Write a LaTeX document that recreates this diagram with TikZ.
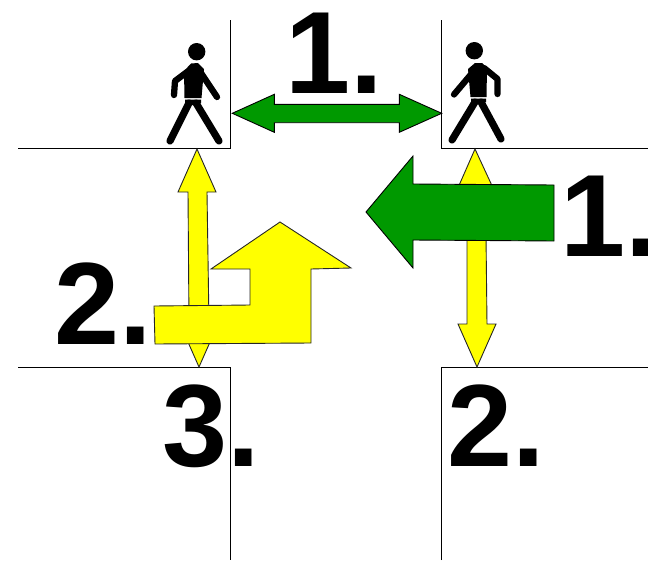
\documentclass[tikz,border=0pt]{standalone}
\usepackage{fontspec}
\setmainfont{Liberation Sans}
\definecolor{gr}{RGB}{0,153,0}
\definecolor{ye}{RGB}{255,255,0}
\tikzset{
 wall/.style={draw=black,line width=0.9pt},
 ya/.style={draw=black!85,fill=ye,line width=0.9pt,line join=miter},
 ga/.style={draw=black,fill=gr,line width=0.9pt,line join=miter},
 lab/.style={font=\fontsize{117}{117}\bfseries\selectfont,inner sep=0pt,anchor=base west},
 armline/.style={draw=black,line width=6.3pt,line cap=round,line join=round},
 legline/.style={draw=black,line width=7.2pt,line cap=round,line join=round}
}
\begin{document}
\begin{tikzpicture}[x=1pt,y=-1pt]
\useasboundingbox (0,0) rectangle (648,560);
% walls
\draw[wall] (18,148.5) -- (230,148.5) -- (230,20);
\draw[wall] (441.5,20) -- (441.5,148.5) -- (648,148.5);
\draw[wall] (18,367.5) -- (230,367.5) -- (230,560);
\draw[wall] (441.5,560) -- (441.5,367.5) -- (648,367.5);
% left person
\fill (196.7,51.7) circle (8.7);
\fill (184,71) -- (191,63.5) -- (198,63) -- (204,69) -- (201.5,98) -- (184.5,98) -- cycle;
\draw[armline] (187,72) -- (175,81) -- (174,95);
\draw[armline] (199,70) -- (217,97);
\fill (185,99.5) -- (201,99.5) -- (201,103) -- (197,105) -- (192,105) -- (185,103) -- cycle;
\draw[legline] (189,103) -- (170,141);
\draw[legline] (196,103) -- (219,141);
% right person
\fill (474.3,50.7) circle (8.7);
\fill (468,69) -- (475,63) -- (482,63) -- (487,68) -- (486.5,97) -- (470.5,97) -- cycle;
\draw[armline] (473,72) -- (454,94.5);
\draw[armline] (484,68) -- (497.5,79) -- (497.5,94);
\fill (471,98.5) -- (486,98.5) -- (486,102) -- (481,104) -- (476,104) -- (471,102) -- cycle;
\draw[legline] (475,102) -- (452,140);
\draw[legline] (481,102) -- (501,139);
% yellow arrows
\path[ya] (197,149) -- (216,192) -- (207,192) -- (209,324) -- (218,324) -- (199,367) -- (180,324) -- (189,324) -- (188,192) -- (178,192) -- cycle;
\path[ya] (475,149) -- (494,190) -- (485.5,190) -- (487,324) -- (496,324) -- (477,367) -- (458,324) -- (467,324) -- (467,190) -- (457,190) -- cycle;
\path[ya] (154,306) -- (250,305) -- (250,269) -- (211,269) -- (280,222) -- (351,268) -- (311,269) -- (311,343) -- (155,344) -- cycle;
% green arrows
\path[ga] (366,212) -- (413,156) -- (413,184) -- (554,185) -- (554,241) -- (413,240) -- (413,268) -- cycle;
\path[ga] (232.3,113.3) -- (274.3,94.3) -- (274.3,104.3) -- (399.3,104.3) -- (399.3,94.3) -- (441.7,113.3) -- (399.3,132.3) -- (399.3,122.7) -- (274.3,122.7) -- (274.3,132.3) -- cycle;
% labels
\node[lab] (a) at (285,93.5) {1.};
\node[lab] (b) at (560,256.5) {1.\kern-10pt};
\node[lab] (c) at (54,344) {2.};
\node[lab] (d) at (447,466) {2.};
\node[lab] (e) at (162,466) {3.};
\end{tikzpicture}
\end{document}
